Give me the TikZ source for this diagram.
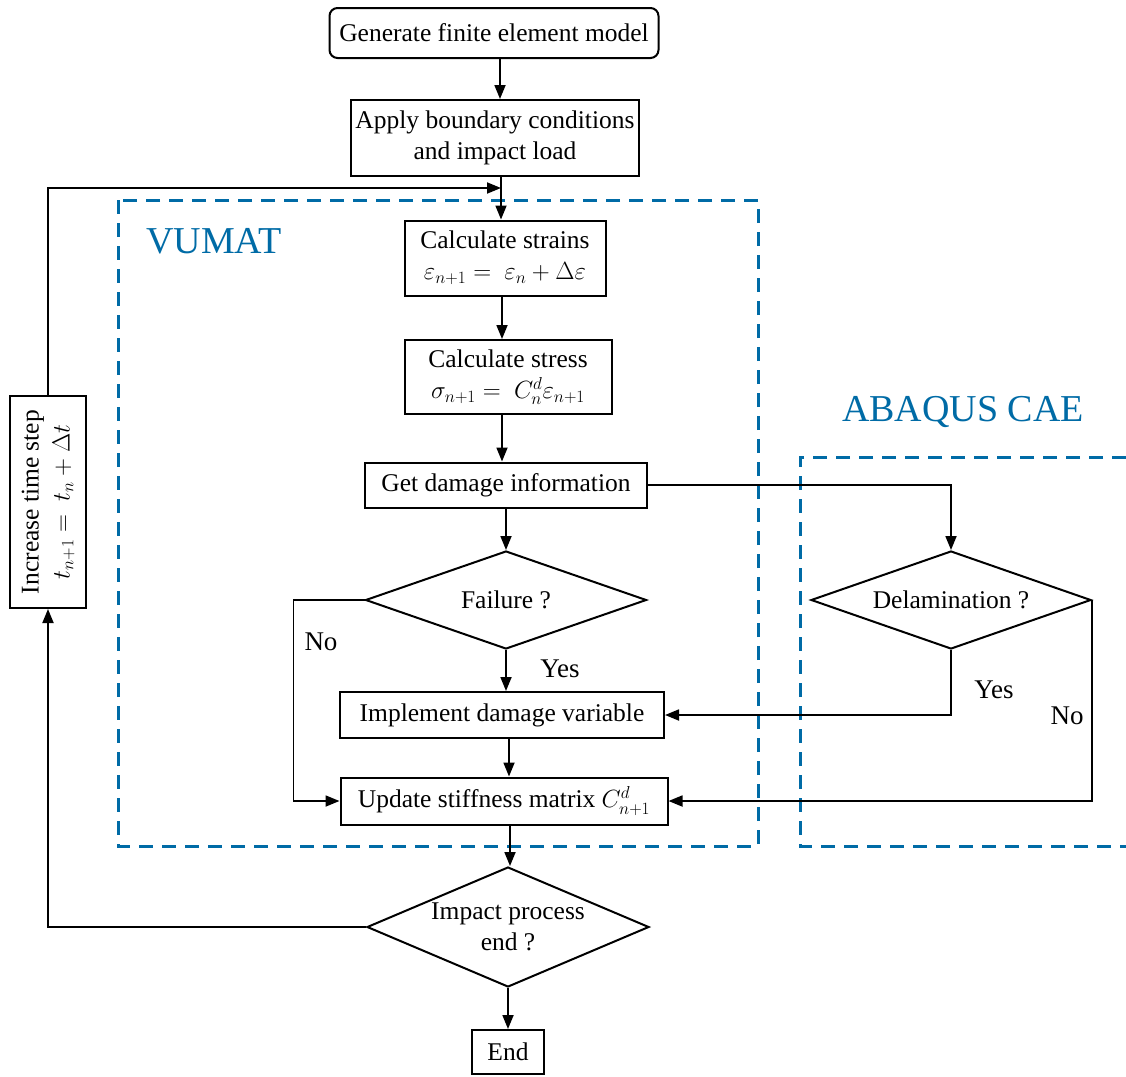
\documentclass[tikz,border=0pt]{standalone}
\usepackage{fontspec}
\setmainfont{Liberation Serif}
\usetikzlibrary{shapes.geometric,arrows.meta}
\definecolor{vblue}{RGB}{0,107,166}
\begin{document}
\begin{tikzpicture}[x=1pt,y=-1pt,
  box/.style={draw, line width=2pt, align=center, font=\fontsize{25.5}{31}\selectfont, inner sep=0pt},
  dia/.style={draw, diamond, line width=2pt, align=center, font=\fontsize{25.5}{31}\selectfont, inner sep=0pt},
  arr/.style={-{Triangle[length=14pt,width=11pt]}, line width=1.8pt},
  region/.style={draw=vblue, dash pattern=on 14pt off 9pt, line width=3pt},
  lbl/.style={font=\fontsize{27}{31}\selectfont, inner sep=0pt},
  title/.style={text=vblue, font=\fontsize{38}{42}\selectfont, inner sep=0pt}]
\useasboundingbox (0,0) rectangle (1126,1076);

% regions
\draw[region] (118,200) rectangle (758,846);
\draw[region] (1126,457) -- (800,457) -- (800,846) -- (1126,846);
\node[title, anchor=west] (vumat) at (146,241) {VUMAT};
\node[title] (abaqus) at (963,412) {ABAQUS CAE};

% nodes
\node[box, rounded corners=8pt, minimum width=329, minimum height=50] (gen) at (494,33) {Generate finite element model};
\node[box, minimum width=288, minimum height=76] (apply) at (495,138) {Apply boundary conditions\\and impact load};
\node[box, minimum width=201, minimum height=75] (strain) at (505,258) {Calculate strains\\$\varepsilon_{n+1} =\ \varepsilon_n + \Delta\varepsilon$};
\node[box, minimum width=207, minimum height=74] (stress) at (508,377) {Calculate stress\\$\sigma_{n+1} =\ C_n^d\varepsilon_{n+1}$};
\node[box, minimum width=282, minimum height=45] (dmg) at (506,485) {Get damage information};
\node[dia, aspect=2.87, minimum width=281, minimum height=98] (fail) at (506,600) {Failure ?};
\node[box, minimum width=324, minimum height=46] (impl) at (502,715) {Implement damage variable};
\node[box, minimum width=327, minimum height=47] (upd) at (504,801) {Update stiffness matrix $C_{n+1}^d$};
\node[dia, aspect=2.35, minimum width=282, minimum height=120] (imp) at (508,927) {Impact process\\end ?};
\node[box, minimum width=72, minimum height=44] (end) at (508,1052) {End};
\node[dia, aspect=2.87, minimum width=280, minimum height=98] (del) at (951,600) {Delamination ?};
\node[box, rotate=90, minimum width=212, minimum height=76] (inc) at (48,502) {Increase time step\\$t_{n+1} =\ t_n + \Delta t$};
\coordinate (loopin) at (501,188);

% connectors
\draw[arr] (gen.south -| 500,0) -- (apply.north -| 500,0);
\draw[arr] (apply.south -| 501,0) -- (strain.north -| 501,0);
\draw[arr] (inc.east) |- (loopin);
\draw[arr] (strain.south -| 502,0) -- (stress.north -| 502,0);
\draw[arr] (stress.south -| 502,0) -- (dmg.north -| 502,0);
\draw[arr] (dmg.south -| 506,0) -- (fail.north);
\draw[arr] (fail.south) -- (impl.north -| fail.south);
\draw[arr] (impl.south -| 509,0) -- (upd.north -| 509,0);
\draw[arr] (fail.west) -- ++(-71,0) |- (upd.west);
\draw[arr] (dmg.east) -| (del.north);
\draw[arr] (del.south) |- (impl.east);
\draw[arr] (del.east) |- (upd.east);
\draw[arr] (upd.south -| 510,0) -- (imp.north -| 510,0);
\draw[arr] (imp.south) -- (end.north -| imp.south);
\draw[arr] (imp.west) -| (inc.west);

% labels
\node[lbl] (no1) at (321,642) {No};
\node[lbl] (yes1) at (560,669) {Yes};
\node[lbl] (yes2) at (994,690) {Yes};
\node[lbl] (no2) at (1067,716) {No};
\end{tikzpicture}
\end{document}
